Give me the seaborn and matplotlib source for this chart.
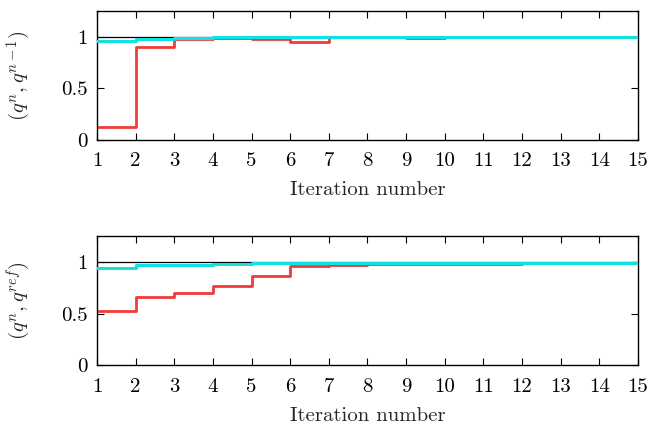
import matplotlib
matplotlib.use("Agg")
import matplotlib.pyplot as plt
import seaborn as sns
import pandas as pd

# Iteration numbers (x axis) and per-iteration values (held until next iteration)
iterations = list(range(1, 16))
x_ticks = list(range(1, 16))
y_ticks = [0, 0.5, 1]
y_tick_labels = ["0", "0.5", "1"]

# Upper panel: correlation between successive iterates
prev_red = [0.13, 0.90, 0.977, 0.987, 0.977, 0.955, 0.998, 0.998, 0.994,
            0.998, 0.999, 0.999, 0.999, 0.999]
prev_cyan = [0.965, 0.98, 0.993, 0.996, 0.997, 0.998, 0.998, 0.999, 0.999,
             0.999, 0.999, 0.999, 0.999, 0.999]

# Lower panel: correlation with the reference solution
ref_red = [0.523, 0.665, 0.704, 0.765, 0.865, 0.965, 0.972, 0.978, 0.982,
           0.984, 0.985, 0.986, 0.987, 0.988]
ref_cyan = [0.942, 0.968, 0.974, 0.984, 0.988, 0.990, 0.991, 0.992, 0.993,
            0.994, 0.994, 0.995, 0.995, 0.995]

panel_labels = [r"$(q^n, q^{n-1})$", r"$(q^n, q^{ref})$"]
xlabel = "Iteration number"

RED = "#f23a3a"
CYAN = "#0fe2e2"

sns.set_style("ticks")
plt.rcParams["font.family"] = ["cmr10", "DejaVu Serif"]
plt.rcParams["mathtext.fontset"] = "cm"
plt.rcParams["axes.formatter.use_mathtext"] = True

fig = plt.figure(figsize=(6.51, 4.28), dpi=100)
ax_top = fig.add_axes([0.149, 0.673, 0.831, 0.301])
ax_bot = fig.add_axes([0.149, 0.147, 0.831, 0.301])


def steps(values):
    return pd.DataFrame({"x": iterations, "y": list(values) + [values[-1]]})


for ax, red, cyan, ylab in [(ax_top, prev_red, prev_cyan, panel_labels[0]),
                             (ax_bot, ref_red, ref_cyan, panel_labels[1])]:
    ax.axhline(1.0, color="black", lw=0.9, zorder=1)
    sns.lineplot(data=steps(red), x="x", y="y", ax=ax, color=RED, lw=2.0,
                 drawstyle="steps-post", zorder=2)
    sns.lineplot(data=steps(cyan), x="x", y="y", ax=ax, color=CYAN, lw=2.2,
                 drawstyle="steps-post", zorder=3)
    ax.set_xlim(1, 15)
    ax.set_ylim(0, 1.25)
    ax.set_xticks(x_ticks)
    ax.set_xticklabels([str(t) for t in x_ticks])
    ax.set_yticks(y_ticks)
    ax.set_yticklabels(y_tick_labels)
    ax.tick_params(axis="both", direction="in", length=5, width=0.8,
                   top=True, right=True, labelsize=15, colors="black")
    ax.tick_params(axis="x", pad=9)
    ax.tick_params(axis="y", pad=7)
    for s in ax.spines.values():
        s.set_visible(True)
        s.set_color("black")
        s.set_linewidth(1.0)
    ax.set_xlabel(xlabel, fontsize=15, labelpad=8)
    ax.set_ylabel(ylab, fontsize=15, labelpad=20)

fig.savefig("out.png", dpi=100)
